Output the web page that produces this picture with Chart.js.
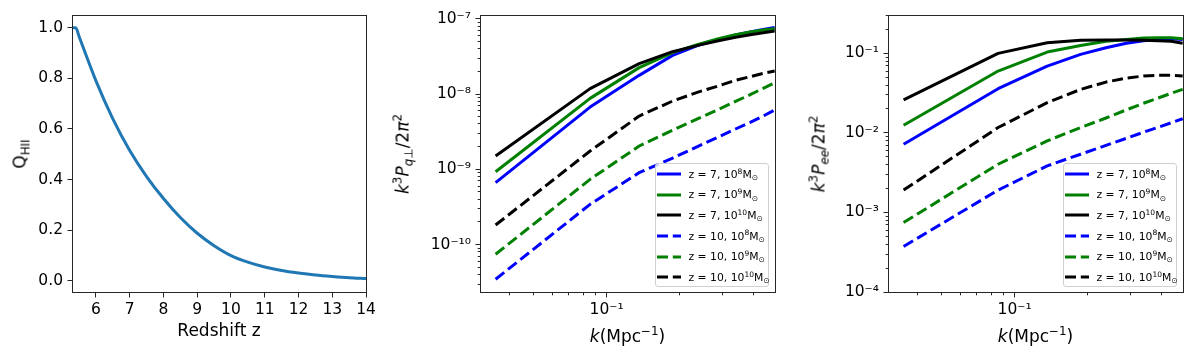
<!DOCTYPE html>
<html><head><meta charset="utf-8">
<script src="https://cdn.jsdelivr.net/npm/chart.js@4"></script>
<style>
html,body{margin:0;padding:0;background:#fff;}
body{width:1196px;height:360px;overflow:hidden;position:relative;font-family:"DejaVu Sans",sans-serif;color:#000;}
.panel{position:absolute;top:0;height:360px;}
.panel canvas{position:absolute;left:0;top:0;}
.title{position:absolute;white-space:nowrap;font-size:17px;line-height:1;transform:translate(-50%,-50%);}
.ytitle{transform:translate(-50%,-50%) rotate(-90deg);}
sup,sub{font-size:70%;line-height:0;position:relative;vertical-align:baseline;}
sup{top:-0.55em;} sub{top:0.3em;}
.legend{position:absolute;background:rgba(255,255,255,0.8);border:1px solid #d0d0d0;border-radius:3px;box-sizing:border-box;width:114px;height:124px;padding:0 0 0 1px;font-size:10.8px;}
.legend .row{height:20.6px;display:flex;align-items:center;white-space:nowrap;}
.legend svg{width:24px;height:6px;margin-right:7.5px;flex:none;}
</style>
</head><body>
<script>
// ---------------- data ----------------
// Panel 1: ionized fraction vs redshift
const zVals = [5.29, 5.4, 5.5, 6, 6.5, 7, 7.5, 8, 8.5, 9, 9.5, 10, 10.5, 11, 11.5, 12, 12.5, 13, 13.5, 14];
const qHII  = [1.0, 1.0, 0.965, 0.79, 0.64, 0.515, 0.412, 0.325, 0.250, 0.188, 0.139, 0.100, 0.074, 0.055, 0.041, 0.031, 0.023, 0.017, 0.012, 0.009];
const zTicks = [6, 7, 8, 9, 10, 11, 12, 13, 14];
const qTicks = [0.0, 0.2, 0.4, 0.6, 0.8, 1.0];

// Panels 2 and 3: wavenumbers (Mpc^-1)
const kVals = [0.035, 0.0855, 0.136, 0.1865, 0.237, 0.2875, 0.338, 0.3885, 0.439, 0.4895];
const kTicks = [0.1];

// Panel 2: k^3 P_q_perp / 2pi^2
const qperp_z7_m8   = [6.65e-10, 6.71e-9, 1.77e-8, 3.26e-8, 4.43e-8, 5.32e-8, 6.07e-8, 6.65e-8, 7.22e-8, 7.67e-8];
const qperp_z7_m9   = [9.3e-10, 8.75e-9, 2.24e-8, 3.54e-8, 4.56e-8, 5.43e-8, 6.14e-8, 6.65e-8, 7.08e-8, 7.37e-8];
const qperp_z7_m10  = [1.50e-9, 1.18e-8, 2.53e-8, 3.65e-8, 4.43e-8, 5.11e-8, 5.65e-8, 6.14e-8, 6.52e-8, 6.86e-8];
const qperp_z10_m8  = [3.47e-11, 3.43e-10, 9.04e-10, 1.41e-9, 2.02e-9, 2.69e-9, 3.43e-9, 4.21e-9, 5.10e-9, 6.14e-9];
const qperp_z10_m9  = [7.45e-11, 7.36e-10, 2.04e-9, 3.30e-9, 4.71e-9, 6.25e-9, 8.0e-9, 9.8e-9, 1.19e-8, 1.41e-8];
const qperp_z10_m10 = [1.82e-10, 1.75e-9, 5.1e-9, 8.07e-9, 1.06e-8, 1.28e-8, 1.52e-8, 1.70e-8, 1.88e-8, 2.02e-8];
const qperpTicks = [1e-10, 1e-9, 1e-8, 1e-7];

// Panel 3: k^3 P_ee / 2pi^2
const pee_z7_m8   = [7.21e-3, 0.0360, 0.0693, 0.0971, 0.118, 0.134, 0.144, 0.150, 0.153, 0.150];
const pee_z7_m9   = [0.0125, 0.060, 0.104, 0.126, 0.142, 0.150, 0.156, 0.157, 0.157, 0.153];
const pee_z7_m10  = [0.0260, 0.100, 0.136, 0.146, 0.147, 0.147, 0.146, 0.144, 0.142, 0.134];
const pee_z10_m8  = [3.74e-4, 1.91e-3, 3.85e-3, 5.40e-3, 6.97e-3, 8.57e-3, 0.0102, 0.0118, 0.0134, 0.0151];
const pee_z10_m9  = [7.48e-4, 4.04e-3, 7.94e-3, 0.0117, 0.0154, 0.0195, 0.0236, 0.0275, 0.0315, 0.0353];
const pee_z10_m10 = [1.91e-3, 0.0117, 0.0240, 0.0353, 0.0436, 0.0490, 0.0519, 0.0530, 0.0530, 0.0519];
const peeTicks = [1e-4, 1e-3, 1e-2, 1e-1];

const seriesLabels = ['z = 7, 10<sup>8</sup>M<sub>⊙</sub>', 'z = 7, 10<sup>9</sup>M<sub>⊙</sub>', 'z = 7, 10<sup>10</sup>M<sub>⊙</sub>',
                      'z = 10, 10<sup>8</sup>M<sub>⊙</sub>', 'z = 10, 10<sup>9</sup>M<sub>⊙</sub>', 'z = 10, 10<sup>10</sup>M<sub>⊙</sub>'];
const seriesColors = ['#0000ff', '#008000', '#000000', '#0000ff', '#008000', '#000000'];
const seriesDashed = [false, false, false, true, true, true];

// ---------------- helpers ----------------
const SUP = {'0':'⁰','1':'¹','2':'²','3':'³','4':'⁴','5':'⁵','6':'⁶','7':'⁷','8':'⁸','9':'⁹'};
function powLabel(v){ const e = Math.round(Math.log10(v)); return '10' + (e < 0 ? '⁻' : '') + String(Math.abs(e)).split('').map(c => SUP[c]).join(''); }
const DASH = [11, 4.8];

const frameTicks = {
  id: 'frameTicks',
  afterDraw(chart){
    const ctx = chart.ctx, a = chart.chartArea;
    ctx.save();
    ctx.strokeStyle = '#262626';
    ctx.lineWidth = 1;
    const L = Math.floor(a.left) + 0.5, R = Math.floor(a.right) + 0.5, T = Math.floor(a.top) + 0.5, B = Math.floor(a.bottom) + 0.5;
    ctx.strokeRect(L, T, R - L, B - T);
    ['x','y'].forEach(id => {
      const s = chart.scales[id];
      const list = [];
      if (s.type === 'logarithmic') {
        for (let e = Math.floor(Math.log10(s.min)) - 1; e <= Math.ceil(Math.log10(s.max)); e++) {
          for (let m = 1; m <= 9; m++) {
            const v = m * Math.pow(10, e);
            if (v >= s.min * 0.9999 && v <= s.max * 1.0001) list.push([v, m === 1]);
          }
        }
      } else {
        s.ticks.forEach(t => list.push([t.value, true]));
      }
      list.forEach(([v, major]) => {
        const len = major ? 5 : 2.8;
        const p = Math.floor(s.getPixelForValue(v)) + 0.5;
        ctx.beginPath();
        if (id === 'x') { ctx.moveTo(p, B); ctx.lineTo(p, B + len); }
        else { ctx.moveTo(L, p); ctx.lineTo(L - len, p); }
        ctx.stroke();
      });
    });
    ctx.restore();
  }
};

function axis(type, min, max, tickVals, fmt, fitFn){
  return {
    type, min, max,
    afterBuildTicks: s => { s.ticks = tickVals.map(v => ({value: v})); },
    afterFit: fitFn,
    grid: {display: true, drawOnChartArea: false, drawTicks: true, tickLength: 5, color: 'rgba(0,0,0,0)'},
    border: {display: false},
    ticks: {color: '#000', font: {family: 'DejaVu Sans', size: 15.5}, padding: 4, maxRotation: 0, autoSkip: false,
            callback: v => fmt(v)}
  };
}

function makePanel(cfg){
  const div = document.createElement('div');
  div.className = 'panel';
  div.style.left = cfg.left + 'px';
  div.style.width = cfg.width + 'px';
  document.body.appendChild(div);
  const cv = document.createElement('canvas');
  cv.width = cfg.width; cv.height = 360;
  cv.style.width = cfg.width + 'px'; cv.style.height = '360px';
  div.appendChild(cv);
  new Chart(cv, {
    type: 'line',
    data: {datasets: cfg.datasets},
    options: {
      responsive: false, animation: false, devicePixelRatio: 1,
      layout: {padding: {left: 0, right: cfg.padR, top: cfg.padT, bottom: 0}},
      plugins: {legend: {display: false}, tooltip: {enabled: false}},
      scales: {
        x: axis(cfg.xType, cfg.xMin, cfg.xMax, cfg.xTicks, cfg.xFmt, s => { s.height = cfg.axH; }),
        y: axis(cfg.yType, cfg.yMin, cfg.yMax, cfg.yTicks, cfg.yFmt, s => { s.width = cfg.axW; })
      }
    },
    plugins: [frameTicks]
  });
  return div;
}

function seriesSets(xs, arrays){
  return arrays.map((arr, i) => ({
    data: xs.map((x, j) => ({x, y: arr[j]})),
    borderColor: seriesColors[i], borderWidth: 3, borderDash: seriesDashed[i] ? DASH : [],
    borderCapStyle: 'butt', borderJoinStyle: 'round',
    pointRadius: 0, fill: false, tension: 0, clip: 0, order: 10 - i
  }));
}

function addTitle(parent, html, cx, cy, rot){
  const el = document.createElement('div');
  el.className = 'title' + (rot ? ' ytitle' : '');
  el.innerHTML = html;
  el.style.left = cx + 'px'; el.style.top = cy + 'px';
  parent.appendChild(el);
}

function addLegend(parent, right, bottom){
  const lg = document.createElement('div');
  lg.className = 'legend';
  lg.style.right = right + 'px'; lg.style.bottom = bottom + 'px';
  seriesLabels.forEach((lab, i) => {
    const row = document.createElement('div');
    row.className = 'row';
    const dash = seriesDashed[i] ? ' stroke-dasharray="11 4.8"' : '';
    row.innerHTML = '<svg viewBox="0 0 24 6"><line x1="0" y1="3" x2="24" y2="3" stroke="' + seriesColors[i] + '" stroke-width="3"' + dash + '/></svg><span>' + lab + '</span>';
    lg.appendChild(row);
  });
  parent.appendChild(lg);
}

// ---------------- panel 1 ----------------
const p1 = makePanel({
  left: 0, width: 380, padR: 14, padT: 15, axW: 72, axH: 68,
  xType: 'linear', xMin: 5.29, xMax: 14, xTicks: zTicks, xFmt: v => String(v),
  yType: 'linear', yMin: -0.044, yMax: 1.05, yTicks: qTicks, yFmt: v => v.toFixed(1),
  datasets: [{
    data: zVals.map((z, i) => ({x: z, y: qHII[i]})),
    borderColor: '#1f77b4', borderWidth: 3, pointRadius: 0, fill: false,
    cubicInterpolationMode: 'monotone', clip: 0, borderJoinStyle: 'round'
  }]
});
addTitle(p1, 'Redshift z', 219, 330, false);
addTitle(p1, 'Q<sub>HII</sub>', 19.5, 153.5, true);

// ---------------- panel 2 ----------------
const p2 = makePanel({
  left: 380, width: 410, padR: 15, padT: 15, axW: 100, axH: 68,
  xType: 'logarithmic', xMin: 0.0302, xMax: 0.491, xTicks: kTicks, xFmt: powLabel,
  yType: 'logarithmic', yMin: 2.35e-11, yMax: 1.12e-7, yTicks: qperpTicks, yFmt: powLabel,
  datasets: seriesSets(kVals, [qperp_z7_m8, qperp_z7_m9, qperp_z7_m10, qperp_z10_m8, qperp_z10_m9, qperp_z10_m10])
});
addTitle(p2, '<i>k</i>(Mpc<sup>−1</sup>)', 247.5, 336, false);
addTitle(p2, '<i>k</i><sup>3</sup><i>P</i><sub><i>q</i>⊥</sub>/2<i>π</i><sup>2</sup>', 23, 153.5, true);
addLegend(p2, 21, 73);

// ---------------- panel 3 ----------------
const p3 = makePanel({
  left: 790, width: 406, padR: 13, padT: 15, axW: 98, axH: 68,
  xType: 'logarithmic', xMin: 0.0302, xMax: 0.491, xTicks: kTicks, xFmt: powLabel,
  yType: 'logarithmic', yMin: 1e-4, yMax: 0.304, yTicks: peeTicks, yFmt: powLabel,
  datasets: seriesSets(kVals, [pee_z7_m8, pee_z7_m9, pee_z7_m10, pee_z10_m8, pee_z10_m9, pee_z10_m10])
});
addTitle(p3, '<i>k</i>(Mpc<sup>−1</sup>)', 245.5, 336, false);
addTitle(p3, '<i>k</i><sup>3</sup><i>P</i><sub><i>ee</i></sub>/2<i>π</i><sup>2</sup>', 29, 153.5, true);
addLegend(p3, 19, 73);
</script>
</body></html>
